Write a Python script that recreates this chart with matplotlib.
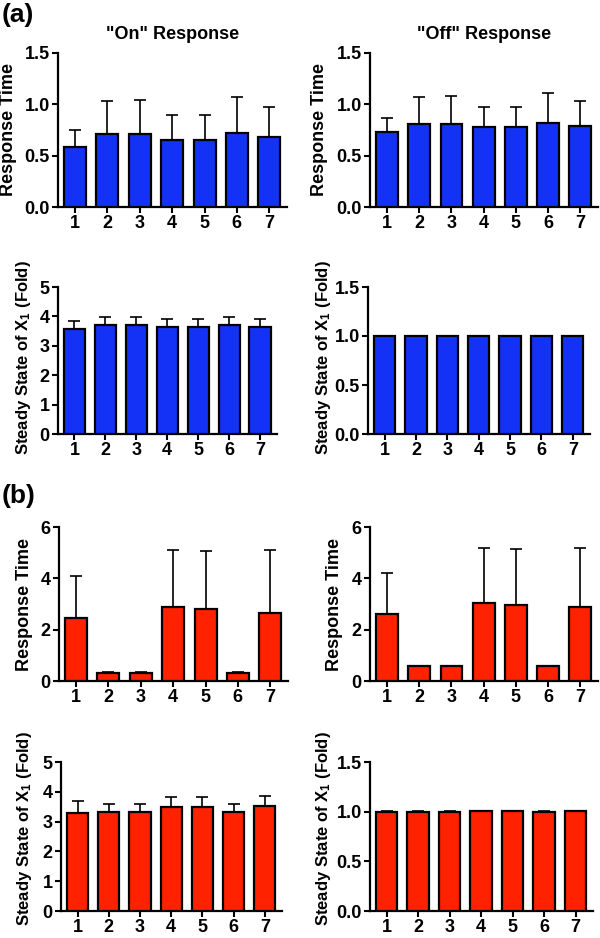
import matplotlib
matplotlib.use("Agg")
import matplotlib.pyplot as plt
import numpy as np

plt.rcParams['font.family'] = ['Liberation Sans', 'DejaVu Sans']
plt.rcParams['font.weight'] = 'bold'
plt.rcParams['mathtext.fontset'] = 'custom'
plt.rcParams['mathtext.rm'] = 'Liberation Sans:bold'
plt.rcParams['mathtext.default'] = 'rm'

azul = '#1432F5'
vermelho = '#FF2200'

casos = [1, 2, 3, 4, 5, 6, 7]

# (a) valores e desvios (so a parte de cima da barra de erro)
on_rt_a = [0.58, 0.71, 0.71, 0.65, 0.65, 0.72, 0.68]
on_rt_a_err = [0.17, 0.325, 0.33, 0.25, 0.25, 0.355, 0.29]
off_rt_a = [0.73, 0.81, 0.805, 0.775, 0.775, 0.82, 0.79]
off_rt_a_err = [0.14, 0.265, 0.28, 0.20, 0.20, 0.29, 0.24]
on_ss_a = [3.57, 3.72, 3.70, 3.64, 3.63, 3.70, 3.65]
on_ss_a_err = [0.28, 0.27, 0.27, 0.27, 0.28, 0.29, 0.27]
off_ss_a = [1.0, 1.0, 1.0, 1.0, 1.0, 1.0, 1.0]
off_ss_a_err = [0.003, 0.003, 0.003, 0.003, 0.003, 0.003, 0.003]

# (b)
on_rt_b = [2.45, 0.33, 0.33, 2.90, 2.79, 0.33, 2.66]
on_rt_b_err = [1.66, 0.03, 0.03, 2.21, 2.27, 0.03, 2.43]
off_rt_b = [2.60, 0.57, 0.57, 3.05, 2.97, 0.57, 2.88]
off_rt_b_err = [1.61, 0.03, 0.03, 2.15, 2.16, 0.03, 2.32]
on_ss_b = [3.28, 3.33, 3.32, 3.49, 3.49, 3.32, 3.53]
on_ss_b_err = [0.41, 0.26, 0.27, 0.34, 0.33, 0.27, 0.32]
off_ss_b = [1.0, 1.0, 1.0, 1.005, 1.005, 1.0, 1.005]
off_ss_b_err = [0.003, 0.003, 0.003, 0.005, 0.005, 0.003, 0.005]

W, H = 600, 938
fs = 13

def eixo(fig, x0, x1, y_top, y_bot):
    # posicao em pixels -> fracao da figura
    return fig.add_axes([x0 / W, 1 - y_bot / H, (x1 - x0) / W, (y_bot - y_top) / H])

def painel(ax, valores, erros, cor, ylim, yticks, fmt, ylabel, label_x, label_y=0.5, label_fs=fs):
    x = np.array(casos)
    ax.bar(x, valores, 0.68, color=cor, edgecolor='black', linewidth=1.6, zorder=3)
    ax.errorbar(x, valores, yerr=[np.zeros(len(erros)), erros], fmt='none',
                ecolor='black', elinewidth=1.2, capsize=4.5, capthick=1.2, zorder=2)
    ax.set_xlim(0.47, 7.55)
    ax.set_ylim(*ylim)
    ax.set_xticks(x)
    ax.set_xticklabels([str(c) for c in casos])
    ax.set_yticks(yticks)
    ax.set_yticklabels([fmt % t for t in yticks])
    for s in ['top', 'right']:
        ax.spines[s].set_visible(False)
    for s in ['left', 'bottom']:
        ax.spines[s].set_linewidth(1.6)
    ax.tick_params(direction='out', length=4, width=1.5, labelsize=fs, pad=2)
    ax.set_ylabel(ylabel, fontsize=label_fs, fontweight='bold')
    ax.yaxis.set_label_coords(label_x, label_y)

fig = plt.figure(figsize=(6, 9.38), dpi=100)

ss_label = r'Steady State of X$_1$ (Fold)'

ax1 = eixo(fig, 58, 287, 53, 207)
painel(ax1, on_rt_a, on_rt_a_err, azul, (0, 1.5), [0, 0.5, 1.0, 1.5], '%.1f', 'Response Time', -0.18)
ax1.set_title('"On" Response', fontsize=fs, fontweight='bold', pad=10)

ax2 = eixo(fig, 370, 598, 53, 207)
painel(ax2, off_rt_a, off_rt_a_err, azul, (0, 1.5), [0, 0.5, 1.0, 1.5], '%.1f', 'Response Time', -0.184)
ax2.set_title('"Off" Response', fontsize=fs, fontweight='bold', pad=10)

ax3 = eixo(fig, 58, 277, 287, 434)
painel(ax3, on_ss_a, on_ss_a_err, azul, (0, 5), [0, 1, 2, 3, 4, 5], '%d', ss_label, -0.114,
       0.52, 12)

ax4 = eixo(fig, 368, 590, 287, 434)
painel(ax4, off_ss_a, off_ss_a_err, azul, (0, 1.5), [0, 0.5, 1.0, 1.5], '%.1f', ss_label, -0.158,
       0.52, 12)

ax5 = eixo(fig, 59, 288, 527, 681)
painel(ax5, on_rt_b, on_rt_b_err, vermelho, (0, 6), [0, 2, 4, 6], '%d', 'Response Time', -0.114)

ax6 = eixo(fig, 370, 598, 527, 681)
painel(ax6, off_rt_b, off_rt_b_err, vermelho, (0, 6), [0, 2, 4, 6], '%d', 'Response Time', -0.118)

ax7 = eixo(fig, 61, 282, 762, 911)
painel(ax7, on_ss_b, on_ss_b_err, vermelho, (0, 5), [0, 1, 2, 3, 4, 5], '%d', ss_label, -0.122,
       0.555, 12)

ax8 = eixo(fig, 370, 593, 762, 911)
painel(ax8, off_ss_b, off_ss_b_err, vermelho, (0, 1.5), [0, 0.5, 1.0, 1.5], '%.1f', ss_label, -0.166,
       0.555, 12)

fig.text(0.003, 1 - 3 / H, '(a)', fontsize=19, fontweight='bold', va='top', ha='left')
fig.text(0.003, 1 - 484 / H, '(b)', fontsize=19, fontweight='bold', va='top', ha='left')

fig.savefig('out.png', dpi=100)
